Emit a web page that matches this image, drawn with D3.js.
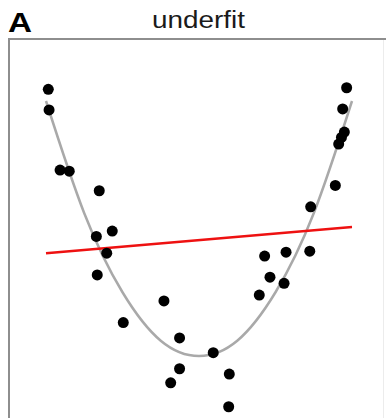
<!DOCTYPE html>
<html>
<head>
<meta charset="utf-8">
<script src="https://cdn.jsdelivr.net/npm/d3@7"></script>
<style>
  body { margin: 0; background: #fff; }
  svg { display: block; }
</style>
</head>
<body>
<svg id="chart" width="386" height="418"></svg>
<script>
// observed points (x, y)
var pointX = [-0.985, -0.980, -0.908, -0.848, -0.652, -0.567, -0.671, -0.603, -0.665, -0.495,
              -0.229, -0.127, -0.127, -0.185, 0.093, 0.198, 0.194, 0.394, 0.464, 0.429,
              0.569, 0.556, 0.724, 0.730, 0.891, 0.913, 0.931, 0.950, 0.939, 0.965];
var pointY = [1.046, 0.965, 0.729, 0.725, 0.648, 0.490, 0.469, 0.403, 0.318, 0.131,
              0.216, 0.071, -0.050, -0.105, 0.013, -0.071, -0.199, 0.239, 0.309, 0.392,
              0.407, 0.285, 0.411, 0.585, 0.669, 0.831, 0.857, 0.878, 0.969, 1.052];

// true curve, read along its length
var curveX = [-1, -0.75, -0.5, -0.25, 0, 0.25, 0.5, 0.75, 1];
var curveY = [1.0, 0.56, 0.25, 0.06, 0, 0.06, 0.25, 0.56, 1.0];

// underfit (linear) model ends
var fitX = [-1, 1];
var fitY = [0.403, 0.506];

var title = "underfit";
var panelLabel = "A";

var svg = d3.select("#chart");

var x = d3.scaleLinear().domain([-1, 1]).range([46, 352]);
var y = d3.scaleLinear().domain([0, 1]).range([356, 101]);

// panel frame
svg.append("line").attr("x1", 9).attr("x2", 9).attr("y1", 38).attr("y2", 430)
    .attr("stroke", "#8e8e8e").attr("stroke-width", 2);
svg.append("line").attr("x1", 8).attr("x2", 386).attr("y1", 39).attr("y2", 39)
    .attr("stroke", "#8e8e8e").attr("stroke-width", 2);
svg.append("line").attr("x1", 383.5).attr("x2", 383.5).attr("y1", 40).attr("y2", 430)
    .attr("stroke", "#ececec").attr("stroke-width", 1);

svg.append("text")
    .attr("x", 8).attr("y", 32)
    .attr("textLength", 24)
    .attr("lengthAdjust", "spacingAndGlyphs")
    .style("font", "bold 28px 'Liberation Sans', Arial, sans-serif")
    .text(panelLabel);

svg.append("text")
    .attr("x", 152).attr("y", 28)
    .attr("textLength", 93)
    .attr("lengthAdjust", "spacingAndGlyphs")
    .style("font", "23px 'Liberation Sans', Arial, sans-serif")
    .attr("fill", "#1a1a1a")
    .text(title);

var curveData = curveX.map(function(d, i) { return {x: d, y: curveY[i]}; });
var line = d3.line()
    .curve(d3.curveNatural)
    .x(function(d) { return x(d.x); })
    .y(function(d) { return y(d.y); });

svg.append("path")
    .datum(curveData)
    .attr("d", line)
    .attr("fill", "none")
    .attr("stroke", "#a9a9a9")
    .attr("stroke-width", 2.5);

var fitData = fitX.map(function(d, i) { return {x: d, y: fitY[i]}; });
svg.append("path")
    .datum(fitData)
    .attr("d", d3.line().x(function(d) { return x(d.x); }).y(function(d) { return y(d.y); }))
    .attr("fill", "none")
    .attr("stroke", "#ee1111")
    .attr("stroke-width", 2.5);

svg.selectAll(".pt")
    .data(pointX.map(function(d, i) { return {x: d, y: pointY[i]}; }))
    .enter().append("circle")
    .attr("class", "pt")
    .attr("cx", function(d) { return x(d.x); })
    .attr("cy", function(d) { return y(d.y); })
    .attr("r", 5.5)
    .attr("fill", "#000");
</script>
</body>
</html>
